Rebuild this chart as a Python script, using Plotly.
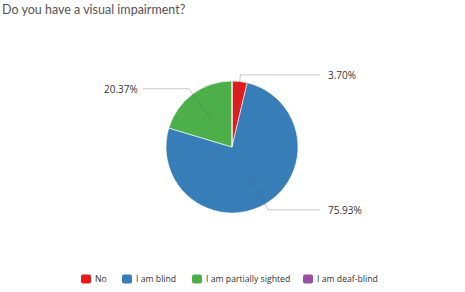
import math
import plotly.graph_objects as go

labels = ["No", "I am blind", "I am partially sighted", "I am deaf-blind"]
values = [3.70, 75.93, 20.37, 0.0]
colors = ["#e41a1c", "#377eb8", "#4daf4a", "#984ea3"]
title = "Do you have a visual impairment?"

W, H = 465, 292
cx, cy, r = 232, 147, 66

fig = go.Figure(go.Pie(
    labels=labels, values=values, sort=False, direction="clockwise", rotation=0,
    marker=dict(colors=colors, line=dict(color="white", width=0.6)),
    textinfo="none", hoverinfo="label+percent", showlegend=False,
    domain=dict(x=[(cx - r) / W, (cx + r) / W], y=[1 - (cy + r) / H, 1 - (cy - r) / H]),
))

def px(x):
    return x / W

def py(y):
    return 1 - y / H

shapes, annotations = [], []
total = sum(values)
cum = 0.0
for lab, v in zip(labels, values):
    if v <= 0:
        cum += v
        continue
    mid = (cum + v / 2) / total * 2 * math.pi
    cum += v
    s, c = math.sin(mid), math.cos(mid)
    x0, y0 = cx + 0.5 * r * s, cy - 0.5 * r * c
    x1, y1 = cx + 1.1 * r * s, cy - 1.1 * r * c
    right = s >= 0
    x2 = 320 if right else 143
    line = dict(color="rgba(90,90,90,0.33)", width=1)
    shapes.append(dict(type="line", xref="paper", yref="paper", x0=px(x0), y0=py(y0), x1=px(x1), y1=py(y1), line=line))
    shapes.append(dict(type="line", xref="paper", yref="paper", x0=px(x1), y0=py(y1), x1=px(x2), y1=py(y1), line=line))
    annotations.append(dict(
        xref="paper", yref="paper", x=px(x2 + 6 if right else x2 - 3), y=py(y1),
        xanchor="left" if right else "right", yanchor="middle",
        text=f"{v / total * 100:.2f}%", showarrow=False,
        font=dict(family="Open Sans", size=10, color="#333333"),
    ))

annotations.append(dict(
    xref="paper", yref="paper", x=px(0), y=py(9), xanchor="left", yanchor="middle",
    text=title, showarrow=False, font=dict(family="Lato", size=12.5, color="#555555"),
))

# custom compact legend (layout chrome)
leg_x = [81, 122, 192, 303]
leg_y = 279
for lab, col, lx in zip(labels, colors, leg_x):
    x0, x1, y0, y1 = lx, lx + 10, leg_y - 4.5, leg_y + 4.5
    rr = 2
    path = (f"M {px(x0+rr)},{py(y0)} L {px(x1-rr)},{py(y0)} Q {px(x1)},{py(y0)} {px(x1)},{py(y0+rr)} "
            f"L {px(x1)},{py(y1-rr)} Q {px(x1)},{py(y1)} {px(x1-rr)},{py(y1)} "
            f"L {px(x0+rr)},{py(y1)} Q {px(x0)},{py(y1)} {px(x0)},{py(y1-rr)} "
            f"L {px(x0)},{py(y0+rr)} Q {px(x0)},{py(y0)} {px(x0+rr)},{py(y0)} Z")
    shapes.append(dict(type="path", xref="paper", yref="paper", path=path,
                       fillcolor=col, line=dict(width=0)))
    annotations.append(dict(
        xref="paper", yref="paper", x=px(lx + 12), y=py(leg_y), xanchor="left", yanchor="middle",
        text=lab, showarrow=False, font=dict(family="Open Sans", size=8.7, color="#333333"),
    ))

fig.update_layout(
    width=W, height=H, margin=dict(l=0, r=0, t=0, b=0),
    paper_bgcolor="white", plot_bgcolor="white",
    shapes=shapes, annotations=annotations,
)

fig.write_html("out.html")
